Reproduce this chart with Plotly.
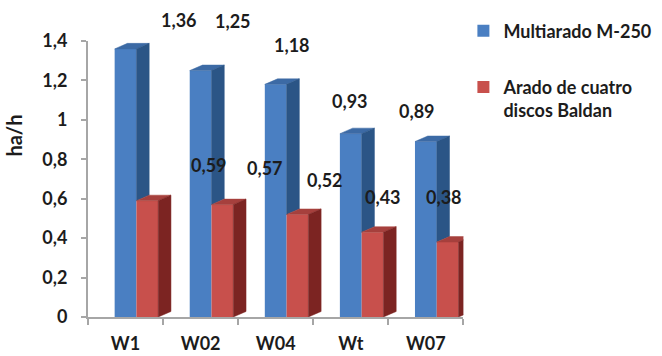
import plotly.graph_objects as go

# Chart data
categories = ["W1", "W02", "W04", "Wt", "W07"]
multiarado = [1.36, 1.25, 1.18, 0.93, 0.89]
arado_baldan = [0.59, 0.57, 0.52, 0.43, 0.38]
series_names = ["Multiarado M-250", "Arado de cuatro<br>discos Baldan"]
y_ticks = [0, 0.2, 0.4, 0.6, 0.8, 1.0, 1.2, 1.4]
y_tick_text = ["0", "0,2", "0,4", "0,6", "0,8", "1", "1,2", "1,4"]

# Value-label placement (pixel shifts from each bar's top-centre of its category)
blue_label_dx = [53, 32, 16, -1, -9]
blue_label_dy = [29, 50, 39, 33, 31]
red_label_dx = [83, 64, 49, 32, 18]
red_label_dy = [36, 37, 34, 35, 45]

# Pseudo-3D bar geometry (axis units)
BAR_W = 0.29
OFF_A = -0.145
OFF_B = 0.145
DEPTH_X = 0.17
DEPTH_Y = 0.028

FRONT_A, TOP_A, SIDE_A = "#4A7FC2", "#3C6AA5", "#2B5586"
FRONT_B, TOP_B, SIDE_B = "#C8504C", "#A6403D", "#7C2422"

FONT = "Lato"
TXT = "#1c1c1c"

xs = list(range(len(categories)))


def top_faces(offset, values):
    px, py = [], []
    for x, v in zip(xs, values):
        x0 = x + offset
        px += [x0, x0 + BAR_W, x0 + BAR_W + DEPTH_X, x0 + DEPTH_X, x0, None]
        py += [v, v, v + DEPTH_Y, v + DEPTH_Y, v, None]
    return px, py


def side_faces(offset, values, lows):
    px, py = [], []
    for x, v, lo in zip(xs, values, lows):
        x1 = x + offset + BAR_W
        px += [x1, x1 + DEPTH_X, x1 + DEPTH_X, x1, x1, None]
        py += [lo, lo + DEPTH_Y, v + DEPTH_Y, v, lo, None]
    return px, py


def face_trace(xy, color):
    return go.Scatter(
        x=xy[0], y=xy[1], mode="lines", fill="toself",
        fillcolor=color, line=dict(color=color, width=0.5),
        hoverinfo="skip", showlegend=False,
    )


fig = go.Figure()

fig.add_trace(go.Bar(
    x=xs, y=multiarado, width=BAR_W, offset=OFF_A, name=series_names[0],
    marker=dict(color=FRONT_A, line=dict(width=0)), legendgroup="a",
))
fig.add_trace(go.Bar(
    x=xs, y=arado_baldan, width=BAR_W, offset=OFF_B, name=series_names[1],
    marker=dict(color=FRONT_B, line=dict(width=0)), legendgroup="b",
))

# Depth faces: the first series' side is hidden below the second series' front
fig.add_trace(face_trace(top_faces(OFF_A, multiarado), TOP_A))
fig.add_trace(face_trace(side_faces(OFF_A, multiarado, arado_baldan), SIDE_A))
fig.add_trace(face_trace(top_faces(OFF_B, arado_baldan), TOP_B))
fig.add_trace(face_trace(side_faces(OFF_B, arado_baldan, [0] * len(xs)), SIDE_B))


def fmt(v):
    return f"{v:.2f}".replace(".", ",")


annotations = []
for x, v, dx, dy in zip(xs, multiarado, blue_label_dx, blue_label_dy):
    annotations.append(dict(x=x, y=v, text=fmt(v), showarrow=False,
                            xshift=dx, yshift=dy))
for x, v, dx, dy in zip(xs, arado_baldan, red_label_dx, red_label_dy):
    annotations.append(dict(x=x, y=v, text=fmt(v), showarrow=False,
                            xshift=dx, yshift=dy))
annotations.append(dict(
    text="ha/h", textangle=-90, showarrow=False,
    xref="paper", yref="paper", x=-0.198, y=0.656,
    xanchor="center", yanchor="middle",
    font=dict(size=20, family=FONT, color=TXT, weight="bold"),
))

fig.update_layout(
    width=662, height=356,
    margin=dict(l=88, r=182, t=41, b=39),
    paper_bgcolor="white", plot_bgcolor="white",
    barmode="overlay",
    font=dict(family=FONT, size=18, color=TXT, weight="bold"),
    annotations=annotations,
    showlegend=True,
    legend=dict(
        xref="container", yref="container", x=0.700, y=0.965,
        xanchor="left", yanchor="top",
        traceorder="grouped", tracegroupgap=30, valign="top",
        font=dict(family=FONT, size=18, color=TXT, weight="bold"),
        bgcolor="rgba(0,0,0,0)",
    ),
    xaxis=dict(
        range=[-0.5, 4.5], tickmode="array", tickvals=xs, ticktext=categories,
        showgrid=False, zeroline=False, automargin=False,
        showline=True, linecolor="#A6A6A6", linewidth=2,
        ticks="", ticklabelstandoff=9,
        minor=dict(ticks="outside", tick0=0.5, dtick=1, ticklen=6,
                   tickcolor="#A6A6A6", tickwidth=2, showgrid=False),
        tickfont=dict(size=18, family=FONT, color=TXT, weight="bold"),
        fixedrange=True,
    ),
    yaxis=dict(
        range=[0, 1.4], tickmode="array", tickvals=y_ticks, ticktext=y_tick_text,
        showgrid=False, zeroline=False, automargin=False,
        showline=True, linecolor="#A6A6A6", linewidth=2,
        ticks="outside", ticklen=5, tickcolor="#A6A6A6", tickwidth=2,
        ticklabelstandoff=10,
        tickfont=dict(size=18, family=FONT, color=TXT, weight="bold"),
        fixedrange=True,
    ),
)

fig.write_html("out.html")
